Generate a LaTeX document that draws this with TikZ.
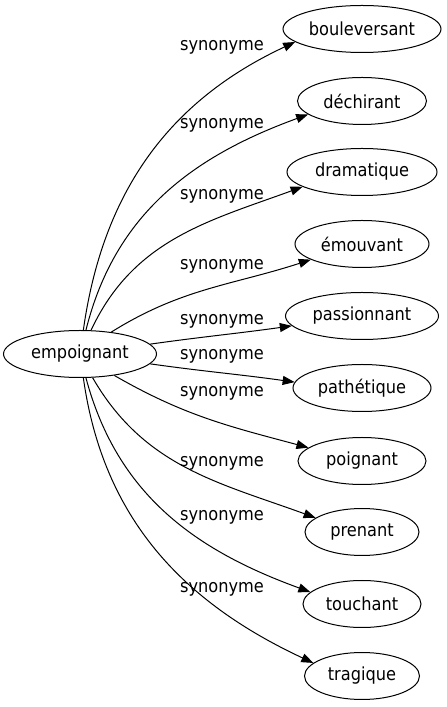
\documentclass[tikz,border=0pt]{standalone}
\usepackage{fontspec}
\setmainfont[FakeStretch=0.9]{DejaVu Sans}
\usetikzlibrary{arrows.meta,shapes.geometric}
\begin{document}
\begin{tikzpicture}[x=1pt,y=1pt,
  every node/.style={font=\fontsize{18}{20}\selectfont},
  ell/.style={draw,ellipse,line width=1pt,minimum height=47pt,inner sep=0pt},
  lab/.style={inner sep=0pt},
  edge/.style={line width=1pt,-{Triangle[length=12pt,width=9pt]}}]
\useasboundingbox (0,0) rectangle (447,707);
\node[ell,minimum width=153pt] (e) at (80,353) {empoignant};
\node[ell,minimum width=158pt] (t1) at (362,678) {bouleversant};
\node[ell,minimum width=129pt] (t2) at (362,606) {déchirant};
\node[ell,minimum width=150pt] (t3) at (362,535) {dramatique};
\node[ell,minimum width=134pt] (t4) at (362,463) {émouvant};
\node[ell,minimum width=153pt] (t5) at (362,391) {passionnant};
\node[ell,minimum width=138pt] (t6) at (362,319) {pathétique};
\node[ell,minimum width=128pt] (t7) at (362,246) {poignant};
\node[ell,minimum width=114pt] (t8) at (362,175) {prenant};
\node[ell,minimum width=118pt] (t9) at (362,103) {touchant};
\node[ell,minimum width=115pt] (t10) at (362,31) {tragique};
\node[lab] (l1) at (222,660) {synonyme};
\node[lab] (l2) at (222,582) {synonyme};
\node[lab] (l3) at (222,511) {synonyme};
\node[lab] (l4) at (222,441) {synonyme};
\node[lab] (l5) at (222,386) {synonyme};
\node[lab] (l6) at (222,351) {synonyme};
\node[lab] (l7) at (222,314) {synonyme};
\node[lab] (l8) at (222,244) {synonyme};
\node[lab] (l9) at (222,190) {synonyme};
\node[lab] (l10) at (222,118) {synonyme};
\draw[edge] (e.82) to[out=82,in=205] (t1.191);
\draw[edge] (e.76) to[out=76,in=200] (t2.194);
\draw[edge] (e.65) to[out=65,in=200] (t3.194);
\draw[edge] (e.35) to[out=32,in=198] (t4.197);
\draw[edge] (e.8) to[out=8,in=188] (t5.188);
\draw[edge] (e.-8) to[out=-8,in=172] (t6.175);
\draw[edge] (e.-32) to[out=-30,in=165] (t7.166);
\draw[edge] (e.-62) to[out=-60,in=160] (t8.163);
\draw[edge] (e.-76) to[out=-75,in=160] (t9.167);
\draw[edge] (e.-82) to[out=-82,in=155] (t10.165);
\end{tikzpicture}
\end{document}
